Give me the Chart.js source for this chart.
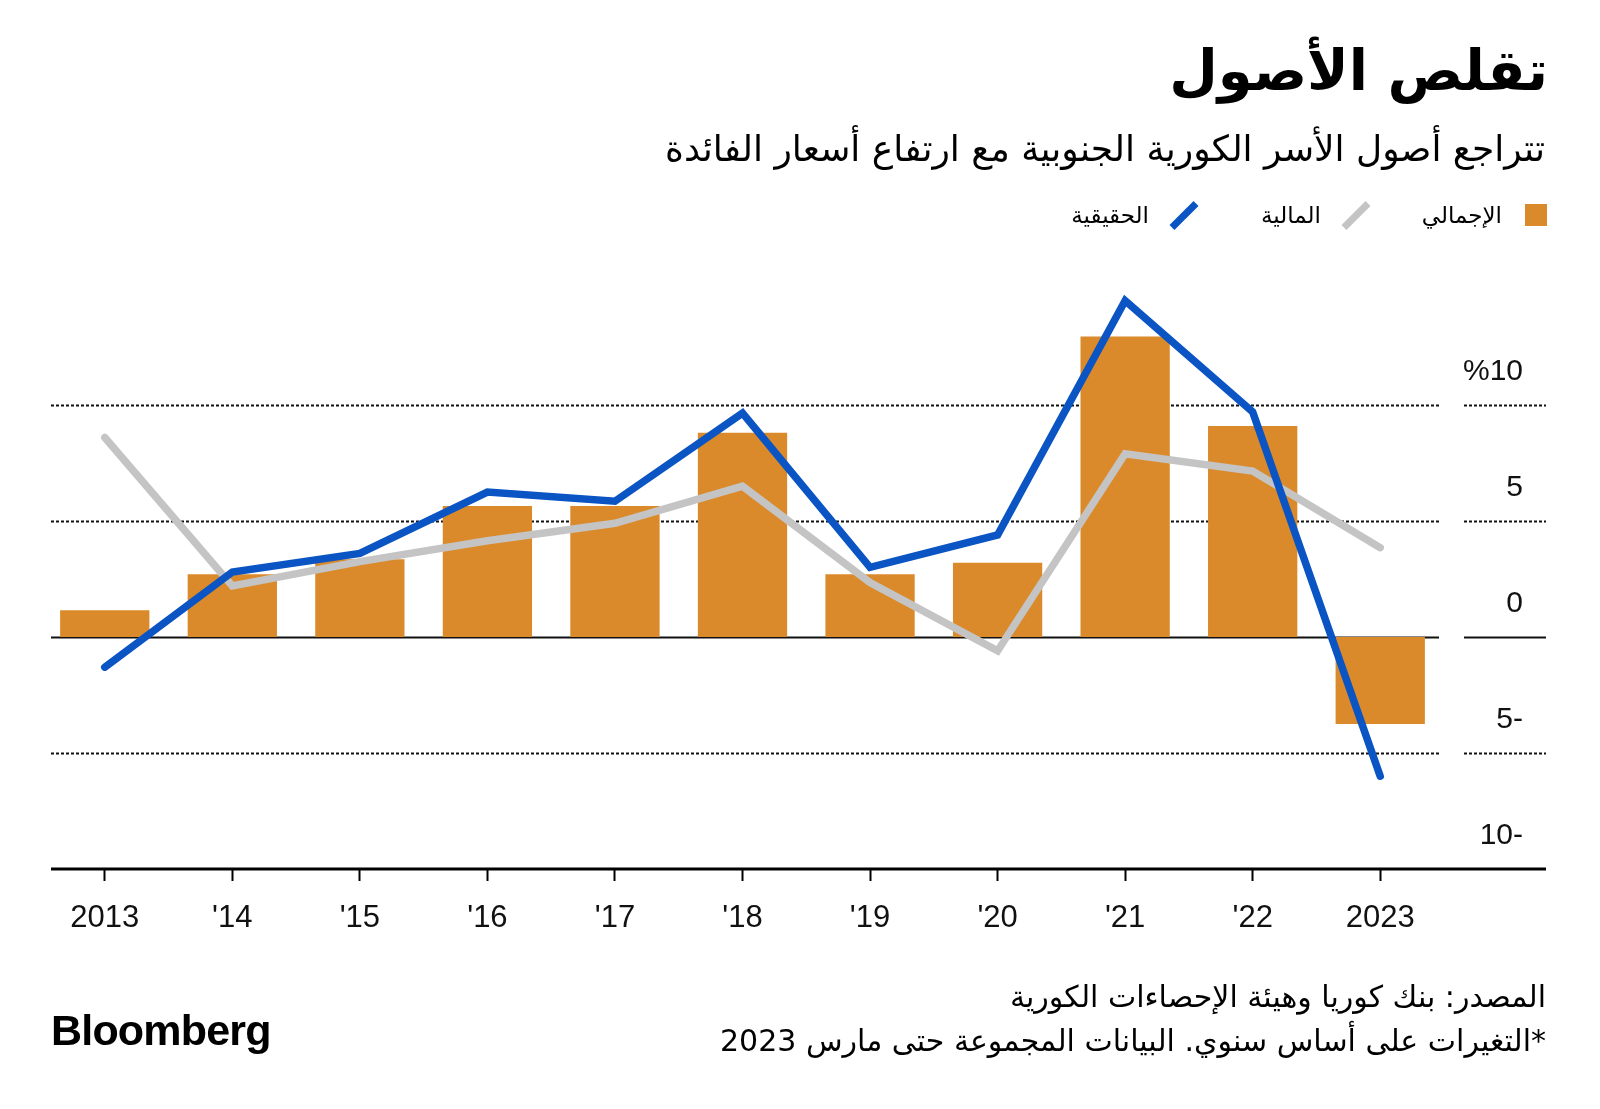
<!DOCTYPE html>
<html lang="ar">
<head>
<meta charset="utf-8">
<script src="https://cdn.jsdelivr.net/npm/chart.js@4.4.1/dist/chart.umd.min.js"></script>
<style>
    body { margin: 0; background: #fff; }
    #wrap { position: relative; width: 1600px; height: 1109px; overflow: hidden; color: #000; font-family: "DejaVu Sans", sans-serif; }
    #chart { position: absolute; left: 0; top: 0; }
    .rtl { position: absolute; direction: rtl; white-space: nowrap; }
    .title { right: 52px; top: 36px; font-size: 56px; font-weight: bold; line-height: 70px; }
    .subtitle { right: 55px; top: 126px; font-size: 36px; line-height: 46px; }
    .legend-text { top: 201px; font-size: 23px; line-height: 28px; }
    .swatch { position: absolute; left: 1525px; top: 204px; width: 22px; height: 22px; background: #DA8A2A; }
    .slash { position: absolute; width: 34px; height: 7px; transform: rotate(-45deg); }
    .source { right: 54px; font-size: 30px; line-height: 38px; }
    .logo { position: absolute; left: 51px; top: 1005px; font-family: "Liberation Sans", Arial, sans-serif; font-weight: bold; font-size: 43px; letter-spacing: -0.8px; line-height: 50px; }
</style>
</head>
<body>
<div id="wrap">
    <canvas id="chart" width="1600" height="1109"></canvas>
    <div class="rtl title">تقلص الأصول</div>
    <div class="rtl subtitle">تتراجع أصول الأسر الكورية الجنوبية مع ارتفاع أسعار الفائدة</div>

    <div class="swatch"></div>
    <div class="rtl legend-text" style="right: 98px;">الإجمالي</div>
    <div class="slash" style="left: 1339px; top: 212px; background: #C4C4C4;"></div>
    <div class="rtl legend-text" style="right: 279px;">المالية</div>
    <div class="slash" style="left: 1167px; top: 212px; background: #0A55C3;"></div>
    <div class="rtl legend-text" style="right: 451px;">الحقيقية</div>

    <div class="rtl source" style="top: 978px;">المصدر: بنك كوريا وهيئة الإحصاءات الكورية</div>
    <div class="rtl source" style="top: 1022px;">*التغيرات على أساس سنوي. البيانات المجموعة حتى مارس 2023</div>
    <div class="logo">Bloomberg</div>
</div>
<script>
// data (% change, year on year)
const years = ["2013", "'14", "'15", "'16", "'17", "'18", "'19", "'20", "'21", "'22", "2023"];
const totalAssets = [1.15, 2.7, 3.35, 5.65, 5.65, 8.8, 2.7, 3.2, 12.95, 9.1, -3.75];
const financialAssets = [8.6, 2.2, 3.25, 4.15, 4.9, 6.5, 2.35, -0.6, 7.9, 7.15, 3.85];
const realAssets = [-1.3, 2.8, 3.6, 6.25, 5.85, 9.65, 3.0, 4.4, 14.5, 9.7, -6.0];
const yTicks = [-10, -5, 0, 5, 10];
const yTickLabels = ["10-", "5-", "0", "5", "%10"];

const ORANGE = "#DA8A2A";
const GREY = "#C4C4C4";
const BLUE = "#0A55C3";
const NUM_FONT = '"Liberation Sans", Arial, sans-serif';

// gridlines split in two: plot area and the label column on the right
const gridPlugin = {
    id: "splitGrid",
    beforeDatasetsDraw(chart) {
        const { ctx, scales: { y } } = chart;
        ctx.save();
        yTicks.forEach((v) => {
            if (v === yTicks[0]) return;
            const py = Math.round(y.getPixelForValue(v)) + 0.5;
            ctx.strokeStyle = "#111";
            ctx.lineWidth = 2;
            ctx.setLineDash(v === 0 ? [] : [3, 2]);
            ctx.beginPath();
            ctx.moveTo(51, py);
            ctx.lineTo(1439, py);
            ctx.moveTo(1464, py);
            ctx.lineTo(1546, py);
            ctx.stroke();
        });
        ctx.restore();
    },
    afterDraw(chart) {
        const { ctx, scales: { y }, chartArea } = chart;
        ctx.save();
        // bottom axis line
        ctx.strokeStyle = "#000";
        ctx.lineWidth = 3;
        ctx.beginPath();
        ctx.moveTo(51, chartArea.bottom);
        ctx.lineTo(1546, chartArea.bottom);
        ctx.stroke();
        // y labels sit above their gridline
        ctx.fillStyle = "#111";
        ctx.font = "30px " + NUM_FONT;
        ctx.textAlign = "right";
        ctx.textBaseline = "alphabetic";
        yTicks.forEach((v, i) => {
            ctx.fillText(yTickLabels[i], 1523, y.getPixelForValue(v) - 25);
        });
        ctx.restore();
    }
};

new Chart(document.getElementById("chart"), {
    type: "bar",
    data: {
        labels: years,
        datasets: [
            {
                type: "line",
                label: "الحقيقية",
                data: realAssets,
                borderColor: BLUE,
                borderWidth: 7.5,
                borderJoinStyle: "miter",
                borderCapStyle: "round",
                pointRadius: 0,
                tension: 0,
                order: 1
            },
            {
                type: "line",
                label: "المالية",
                data: financialAssets,
                borderColor: GREY,
                borderWidth: 7.5,
                borderJoinStyle: "miter",
                borderCapStyle: "round",
                pointRadius: 0,
                tension: 0,
                order: 2
            },
            {
                label: "الإجمالي",
                data: totalAssets,
                backgroundColor: ORANGE,
                barPercentage: 0.7,
                categoryPercentage: 1,
                order: 3
            }
        ]
    },
    options: {
        responsive: false,
        animation: false,
        layout: { padding: { left: 41, right: 156, top: 289, bottom: 180 } },
        plugins: { legend: { display: false }, tooltip: { enabled: false } },
        scales: {
            x: {
                offset: true,
                grid: {
                    offset: false,
                    drawOnChartArea: false,
                    drawTicks: true,
                    tickLength: 12,
                    tickWidth: 2,
                    tickColor: "#000"
                },
                border: { display: false },
                ticks: {
                    color: "#111",
                    font: { family: NUM_FONT, size: 31 },
                    padding: 19,
                    maxRotation: 0,
                    autoSkip: false
                },
                afterFit(scale) { scale.height = 60; }
            },
            y: {
                display: false,
                min: -10,
                max: 15
            }
        }
    },
    plugins: [gridPlugin]
});
</script>
</body>
</html>
